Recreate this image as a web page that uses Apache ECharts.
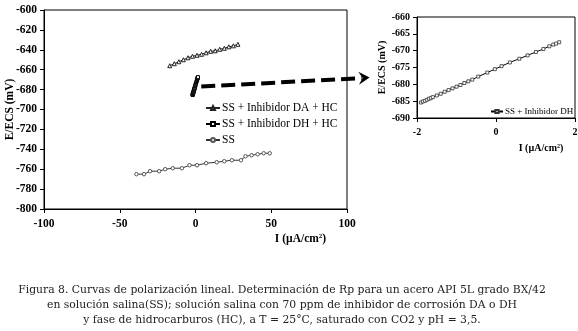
<!DOCTYPE html>
<html>
<head>
<meta charset="utf-8">
<script src="https://cdn.jsdelivr.net/npm/echarts@6/dist/echarts.min.js"></script>
<style>
  html, body { margin: 0; padding: 0; background: #fff; }
  #chart { width: 578px; height: 331px; }
</style>
</head>
<body>
<div id="chart"></div>
<script>
// Main plot data (I in uA/cm2, E in mV)
const daX = [-17, -14, -11, -8, -5, -2, 1, 4, 7, 10, 13, 16, 19, 22, 25, 28];
const daY = [-656, -654, -652, -650, -648, -646.5, -645.5, -644.5, -643, -641.5, -641, -639.5, -638.5, -637, -636, -634.5];

const ssX = [-39, -34, -30, -24, -20, -15, -9, -4, 1, 7, 14, 19, 24, 30, 33, 37, 41, 45, 49];
const ssY = [-765, -765, -762, -762, -760, -759, -759, -756, -756, -754, -753, -752, -751, -751, -747, -746, -745, -744, -744];

// DH curve (also shown enlarged in the inset)
const dhX = [-1.9, -1.85, -1.8, -1.75, -1.7, -1.65, -1.6, -1.5, -1.4, -1.3, -1.2, -1.1, -1.0, -0.9, -0.8,
  -0.7, -0.6, -0.45, -0.22, -0.03, 0.14, 0.35, 0.59, 0.8, 1.01, 1.2, 1.35, 1.45, 1.52, 1.6];
const dhY = [-685.4, -685.1, -684.9, -684.6, -684.3, -684.1, -683.8, -683.3, -682.8, -682.2, -681.7, -681.2, -680.7, -680.2, -679.6,
  -679.1, -678.6, -677.7, -676.5, -675.5, -674.6, -673.5, -672.4, -671.4, -670.4, -669.5, -668.7, -668.2, -667.9, -667.5];

const mainXTicks = { min: -100, max: 100, interval: 50 };
const mainYTicks = { min: -800, max: -600, interval: 20 };
const insetXTicks = { min: -2, max: 2, interval: 2 };
const insetYTicks = { min: -690, max: -660, interval: 5 };

const caption = [
  'Figura 8. Curvas de polarización lineal. Determinación de Rp para un acero API 5L grado BX/42',
  'en solución salina(SS); solución salina con 70 ppm de inhibidor de corrosión DA o DH',
  'y fase de hidrocarburos (HC), a T = 25°C, saturado con CO2 y pH = 3,5.'
];

const zip = (xs, ys) => xs.map((x, i) => [x, ys[i]]);

const serif = '"Liberation Serif", "DejaVu Serif", serif';
const axisText = { color: '#000', fontFamily: serif, fontWeight: 'bold' };

const chart = echarts.init(document.getElementById('chart'));

const makeXAxis = (gridIndex, ticks, size, gap, shift) => ({
  type: 'value',
  gridIndex,
  ...ticks,
  name: 'I (µA/cm{sup|2})',
  nameLocation: 'middle',
  nameGap: gap,
  nameMoveOverlap: false,
  nameTextStyle: {
    ...axisText, fontSize: size, padding: [0, 0, 0, shift],
    rich: { sup: { ...axisText, fontSize: size * 0.6, verticalAlign: 'top', padding: [0, 0, 5, 0] } }
  },
  axisLine: { onZero: false, lineStyle: { color: '#000', width: 1 } },
  axisTick: { show: true, length: 4, lineStyle: { color: '#000' } },
  axisLabel: { ...axisText, fontSize: size, margin: 9 },
  splitLine: { show: false }
});

const makeYAxis = (gridIndex, ticks, size, gap) => ({
  type: 'value',
  gridIndex,
  ...ticks,
  name: 'E/ECS (mV)',
  nameLocation: 'middle',
  nameGap: gap,
  nameMoveOverlap: false,
  nameTextStyle: { ...axisText, fontSize: size },
  axisLine: { show: true, onZero: false, lineStyle: { color: '#000', width: 1 } },
  axisTick: { show: true, length: 4, lineStyle: { color: '#000' } },
  axisLabel: { ...axisText, fontSize: size, margin: 7 },
  splitLine: { show: false }
});

chart.setOption({
  animation: false,
  backgroundColor: '#fff',
  grid: [
    { left: 44, top: 10, width: 303, height: 199, outerBoundsMode: 'none', containLabel: false,
      show: true, borderColor: '#000', borderWidth: 1 },
    { left: 417, top: 17, width: 158, height: 101, outerBoundsMode: 'none', containLabel: false,
      show: true, borderColor: '#000', borderWidth: 1 }
  ],
  xAxis: [
    makeXAxis(0, mainXTicks, 11.5, 24, 210),
    makeXAxis(1, insetXTicks, 10, 25, 90)
  ],
  yAxis: [
    makeYAxis(0, mainYTicks, 11.5, 28),
    makeYAxis(1, insetYTicks, 10, 30)
  ],
  legend: [
    {
      data: ['SS + Inhibidor DA + HC', 'SS + Inhibidor DH + HC', 'SS'],
      orient: 'vertical',
      left: 200,
      top: 97,
      itemWidth: 14,
      itemHeight: 5,
      itemGap: 4,
      textStyle: { color: '#000', fontFamily: serif, fontSize: 11.5, padding: [0, 0, 0, -3] }
    },
    {
      data: ['SS + Inhibidor DH'],
      left: 485,
      top: 102,
      itemWidth: 12,
      itemHeight: 4,
      textStyle: { color: '#000', fontFamily: serif, fontSize: 9, padding: [0, 0, 0, -3] }
    }
  ],
  series: [
    {
      name: 'SS + Inhibidor DA + HC', type: 'line', xAxisIndex: 0, yAxisIndex: 0,
      data: zip(daX, daY), symbol: 'triangle', symbolSize: 4,
      lineStyle: { color: '#222', width: 1 }, itemStyle: { color: '#fff', borderColor: '#222', borderWidth: 1 }
    },
    {
      name: 'SS + Inhibidor DH + HC', type: 'line', xAxisIndex: 0, yAxisIndex: 0,
      data: zip(dhX, dhY), symbol: 'rect', symbolSize: 3,
      lineStyle: { color: '#000', width: 1.2 }, itemStyle: { color: '#fff', borderColor: '#000', borderWidth: 1 }
    },
    {
      name: 'SS', type: 'line', xAxisIndex: 0, yAxisIndex: 0,
      data: zip(ssX, ssY), symbol: 'circle', symbolSize: 3.5,
      lineStyle: { color: '#333', width: 1 }, itemStyle: { color: '#fff', borderColor: '#555', borderWidth: 1 }
    },
    {
      name: 'SS + Inhibidor DH', type: 'line', xAxisIndex: 1, yAxisIndex: 1,
      data: zip(dhX, dhY), symbol: 'rect', symbolSize: 3,
      lineStyle: { color: '#000', width: 1 }, itemStyle: { color: '#fff', borderColor: '#333', borderWidth: 0.8 }
    }
  ]
});

// dashed arrow from the DH curve in the main plot to the inset
const p1 = chart.convertToPixel({ gridIndex: 0 }, [3.8, -677]);
const p2 = chart.convertToPixel({ gridIndex: 1 }, [-3.2, -678]);
const ang = Math.atan2(p2[1] - p1[1], p2[0] - p1[0]);
const rot = (dx, dy) => [p2[0] + dx * Math.cos(ang) - dy * Math.sin(ang), p2[1] + dx * Math.sin(ang) + dy * Math.cos(ang)];

chart.setOption({
  graphic: [
    {
      type: 'line',
      shape: { x1: p1[0], y1: p1[1], x2: rot(-8, 0)[0], y2: rot(-8, 0)[1] },
      style: { stroke: '#000', lineWidth: 4, lineDash: [14, 6] }
    },
    {
      type: 'polygon',
      shape: { points: [rot(0, 0), rot(-11, -6.5), rot(-7, 0), rot(-11, 6.5)] },
      style: { fill: '#000' }
    },
    {
      type: 'group',
      children: caption.map((line, i) => ({
        type: 'text',
        x: 282,
        y: 290 + i * 15,
        style: {
          text: line, textAlign: 'center', textVerticalAlign: 'middle',
          fill: '#222', fontFamily: '"DejaVu Serif", serif', fontSize: 10.8
        }
      }))
    }
  ]
});
</script>
</body>
</html>
